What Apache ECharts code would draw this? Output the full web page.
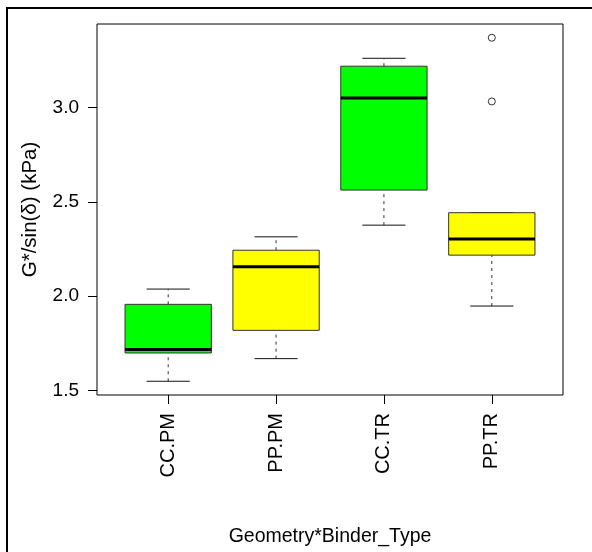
<!DOCTYPE html>
<html>
<head>
<meta charset="utf-8">
<script src="https://cdn.jsdelivr.net/npm/echarts@6/dist/echarts.min.js"></script>
<style>
  html, body { margin: 0; padding: 0; background: #fff; }
  #chart { width: 592px; height: 552px; }
</style>
</head>
<body>
<div id="chart"></div>
<script>
// Box summaries per Geometry*Binder_Type group (kPa)
const categories = ['CC.PM', 'PP.PM', 'CC.TR', 'PP.TR'];
const whiskerLow = [1.549, 1.669, 2.377, 1.948];
const quartile1 = [1.699, 1.819, 2.563, 2.218];
const medians = [1.718, 2.156, 3.052, 2.304];
const quartile3 = [1.957, 2.244, 3.220, 2.443];
const whiskerHigh = [2.038, 2.315, 3.262, 2.443];
// Outlying points: [group index, value]
const outliers = [[3, 3.371], [3, 3.033]];
const yTicks = [1.5, 2.0, 2.5, 3.0];
const boxColors = ['#00ff00', '#ffff00', '#00ff00', '#ffff00'];

// R-style axis limits: data range widened by 4% on each side
const allVals = whiskerLow.concat(whiskerHigh, outliers.map(o => o[1]));
const lo = Math.min(...allVals), hi = Math.max(...allVals);
const pad = (hi - lo) * 0.04;
const xPad = categories.length * 0.04;
const positions = categories.map((c, i) => i + 1);

const FONT = "'Liberation Sans', Arial, sans-serif";
const chart = echarts.init(document.getElementById('chart'), null, { renderer: 'canvas' });

function renderBox(params, api) {
  const i = params.dataIndex;
  const x = positions[i];
  const half = 0.4, cap = 0.2;
  const p = (xv, yv) => api.coord([xv, yv]);
  const tl = p(x - half, quartile3[i]);
  const br = p(x + half, quartile1[i]);
  const lineStyle = { stroke: '#111', lineWidth: 1 };
  const dashStyle = { stroke: '#333', lineWidth: 1, lineDash: [3, 4] };
  const seg = (a, b, style) => ({
    type: 'line',
    shape: { x1: a[0], y1: a[1], x2: b[0], y2: b[1] },
    style: style
  });
  return {
    type: 'group',
    children: [
      seg(p(x, whiskerLow[i]), p(x, quartile1[i]), dashStyle),
      seg(p(x, quartile3[i]), p(x, whiskerHigh[i]), dashStyle),
      seg(p(x - cap, whiskerLow[i]), p(x + cap, whiskerLow[i]), lineStyle),
      seg(p(x - cap, whiskerHigh[i]), p(x + cap, whiskerHigh[i]), lineStyle),
      {
        type: 'rect',
        shape: { x: tl[0], y: tl[1], width: br[0] - tl[0], height: br[1] - tl[1] },
        style: { fill: boxColors[i], stroke: '#333', lineWidth: 1 }
      },
      seg(p(x - half, medians[i]), p(x + half, medians[i]), { stroke: '#000', lineWidth: 3 })
    ]
  };
}

chart.setOption({
  animation: false,
  backgroundColor: '#fff',
  textStyle: { fontFamily: FONT, color: '#000' },
  graphic: [{
    type: 'rect',
    shape: { x: 7, y: 8, width: 800, height: 800 },
    style: { fill: 'none', stroke: '#000', lineWidth: 2 },
    silent: true
  }],
  grid: {
    left: 97, top: 24, right: 29, bottom: 157,
    show: true, borderColor: '#000', borderWidth: 1, backgroundColor: 'transparent'
  },
  xAxis: {
    type: 'value',
    min: 1 - 0.5 - xPad,
    max: categories.length + 0.5 + xPad,
    name: 'Geometry*Binder_Type',
    nameLocation: 'middle',
    nameGap: 132,
    nameTextStyle: { fontFamily: FONT, fontSize: 19.5, color: '#000' },
    splitLine: { show: false },
    axisLine: { show: false },
    axisTick: { show: true, length: 9, customValues: positions, lineStyle: { color: '#000' } },
    axisLabel: {
      customValues: positions,
      rotate: 90,
      margin: 18,
      fontSize: 20,
      color: '#000',
      fontFamily: FONT,
      formatter: v => categories[Math.round(v) - 1] || ''
    }
  },
  yAxis: {
    type: 'value',
    min: lo - pad,
    max: hi + pad,
    name: 'G*/sin(δ) (kPa)',
    nameLocation: 'middle',
    nameGap: 56,
    nameTextStyle: { fontFamily: FONT, fontSize: 20.5, color: '#000' },
    splitLine: { show: false },
    axisLine: { show: false },
    axisTick: { show: true, length: 9, customValues: yTicks, lineStyle: { color: '#000' } },
    axisLabel: {
      customValues: yTicks,
      margin: 18,
      fontSize: 19,
      color: '#000',
      fontFamily: FONT,
      formatter: v => v.toFixed(1)
    }
  },
  series: [
    {
      type: 'custom',
      renderItem: renderBox,
      data: categories.map((c, i) => [positions[i], medians[i]]),
      encode: { x: 0, y: 1 },
      z: 2
    },
    {
      type: 'scatter',
      data: outliers.map(o => [positions[o[0]], o[1]]),
      symbol: 'circle',
      symbolSize: 7,
      itemStyle: { color: '#fff', borderColor: '#000', borderWidth: 1 },
      z: 3
    }
  ]
});
</script>
</body>
</html>
